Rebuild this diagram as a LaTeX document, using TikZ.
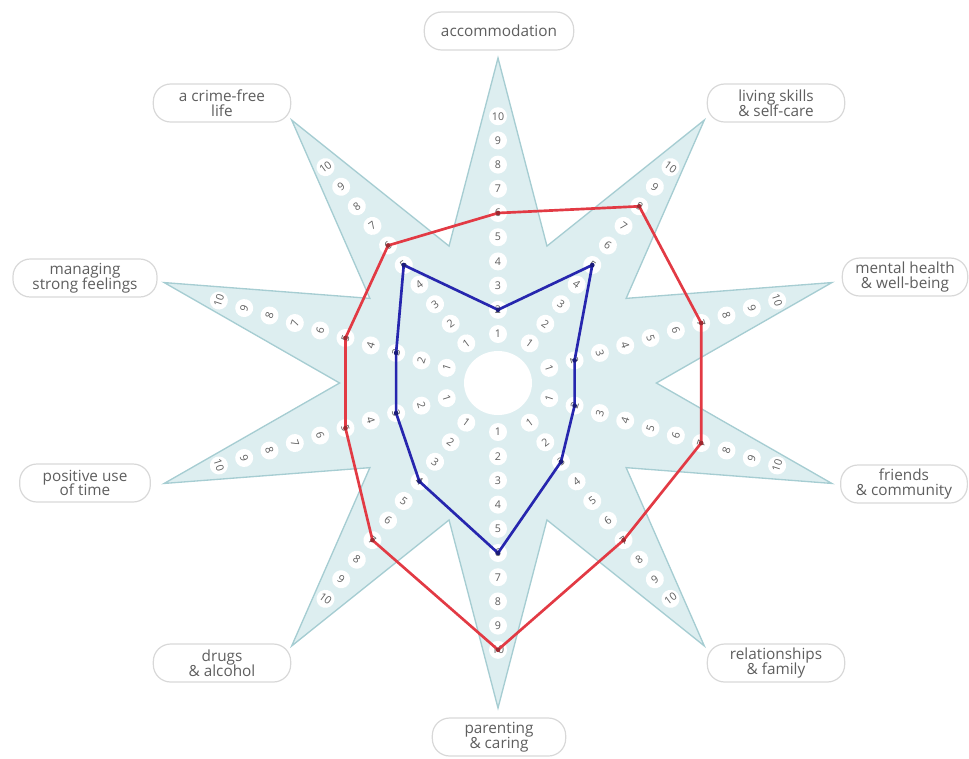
\documentclass[tikz,border=0pt]{standalone}
\usepackage{fontspec}
\setmainfont{Open Sans}
\definecolor{starfill}{HTML}{DDEEF0}
\definecolor{starline}{HTML}{A6CDD2}
\definecolor{txtgray}{HTML}{5E5E5E}
\definecolor{boxline}{HTML}{D8D8D8}
\definecolor{redl}{HTML}{E23A44}
\definecolor{bluel}{HTML}{2626AE}
\tikzset{
  starshape/.style={fill=starfill, draw=starline, line width=1pt},
  badge/.style={circle, fill=white, inner sep=0pt, minimum size=13.5pt, text=txtgray, font=\fontsize{8}{8.5}\selectfont},
  lbl/.style={draw=boxline, line width=0.9pt, rounded corners=13pt, align=center, text=txtgray,
              font=\fontsize{11.5}{13}\selectfont, minimum height=28.5pt, inner xsep=8pt, inner ysep=2pt},
  redpoly/.style={draw=redl, line width=2pt, line join=round},
  bluepoly/.style={draw=bluel, line width=2pt, line join=round},
  vmark/.style={circle, inner sep=0pt, minimum size=3.5pt}
}
\begin{document}
\begin{tikzpicture}[x=0.75pt, y=-0.75pt]
\useasboundingbox (0,0) rectangle (969,758);
\def\cx{498}\def\cy{383}
% star
\filldraw[starshape] ({\cx+1.08*325*cos(90)},{\cy-325*sin(90)})
  \foreach \i in {0,...,9}{
    -- ({\cx+1.1*144*cos(72-36*\i)},{\cy-144*sin(72-36*\i)})
    -- ({\cx+1.08*325*cos(54-36*\i)},{\cy-325*sin(54-36*\i)})
  } -- cycle;
% centre hole
\fill[white] (\cx,\cy) ellipse [x radius=34, y radius=32];
% badges
\foreach \i in {0,...,9}{
  \pgfmathsetmacro\a{90-36*\i}
  \pgfmathsetmacro\rot{ifthenelse(sin(\a)>0, \a-90, \a+90)}
  \foreach \k in {1,...,10}{
    \pgfmathsetmacro\r{49+(\k-1)*24.2}
    \node[badge, rotate=\rot] (n-\i-\k) at ({\cx+1.1*\r*cos(\a)},{\cy-\r*sin(\a)}) {\k};
  }
}
% score points
\foreach \i/\rv/\bv in {0/6/2, 1/8/5, 2/7/2, 3/7/2, 4/7/3, 5/10/6, 6/7/4, 7/5/3, 8/5/3, 9/6/5}{
  \pgfmathsetmacro\a{90-36*\i}
  \pgfmathsetmacro\rr{49+(\rv-1)*24.2}
  \pgfmathsetmacro\rb{49+(\bv-1)*24.2}
  \coordinate (r\i) at ({\cx+1.1*\rr*cos(\a)},{\cy-\rr*sin(\a)});
  \coordinate (b\i) at ({\cx+1.1*\rb*cos(\a)},{\cy-\rb*sin(\a)});
}
\draw[redpoly] (r0) -- (r1) -- (r2) -- (r3) -- (r4) -- (r5) -- (r6) -- (r7) -- (r8) -- (r9) -- cycle;
\draw[bluepoly] (b0) -- (b1) -- (b2) -- (b3) -- (b4) -- (b5) -- (b6) -- (b7) -- (b8) -- (b9) -- cycle;
\foreach \i in {0,...,9}{
  \node[vmark, fill=redl!70!black] (rm\i) at (r\i) {};
  \node[vmark, fill=bluel!70!black] (bm\i) at (b\i) {};
}
% labels
\node[lbl, minimum width=112pt] (accom) at (499,31) {accommodation};
\node[lbl, minimum width=103pt] (living) at (776,103) {living skills\\[-2pt]\& self-care};
\node[lbl, minimum width=94pt] (mental) at (905,277) {mental health\\[-2pt]\& well-being};
\node[lbl, minimum width=95pt] (friends) at (904,484) {friends\\[-2pt]\& community};
\node[lbl, minimum width=103pt] (relat) at (776,663) {relationships\\[-2pt]\& family};
\node[lbl, minimum width=100pt] (parent) at (499,737) {parenting\\[-2pt]\& caring};
\node[lbl, minimum width=103pt] (drugs) at (222,663) {drugs\\[-2pt]\& alcohol};
\node[lbl, minimum width=98pt] (posit) at (85,483) {positive use\\[-2pt]of time};
\node[lbl, minimum width=108pt] (manag) at (85,278) {managing\\[-2pt]strong feelings};
\node[lbl, minimum width=103pt] (crime) at (222,103) {a crime-free\\[-2pt]life};
\end{tikzpicture}
\end{document}
